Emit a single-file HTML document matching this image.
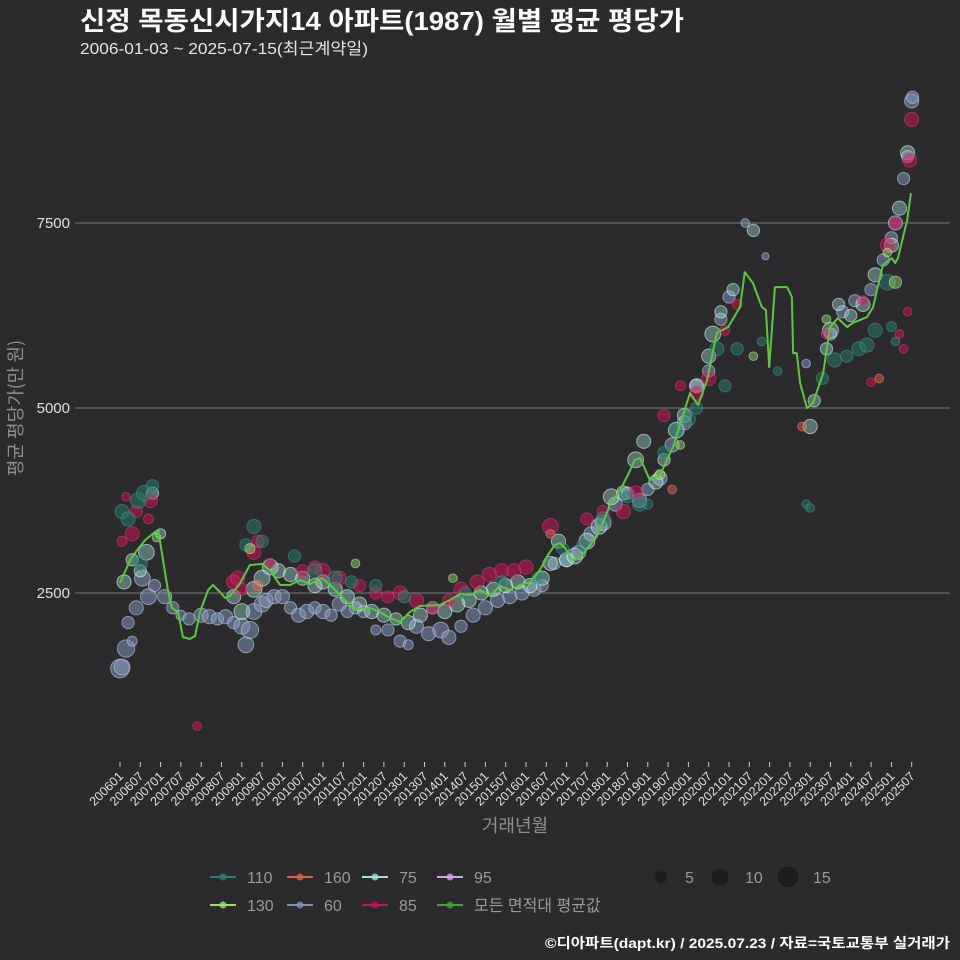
<!DOCTYPE html>
<html><head><meta charset="utf-8">
<style>
html,body{margin:0;padding:0;background:#2b2a2c;}
svg{display:block;font-family:"Liberation Sans","Noto Sans CJK KR",sans-serif;}
</style></head>
<body>
<svg id="chart" width="960" height="960" viewBox="0 0 960 960">
<rect x="0" y="0" width="960" height="960" fill="#2b2a2c"/>
<text x="80" y="30" font-size="26" font-weight="bold" fill="#ffffff" textLength="604" lengthAdjust="spacingAndGlyphs">신정 목동신시가지14 아파트(1987) 월별 평균 평당가</text>
<text x="80" y="54" font-size="16" fill="#e6e6e6" textLength="288" lengthAdjust="spacingAndGlyphs">2006-01-03 ~ 2025-07-15(최근계약일)</text>
<g id="grid"></g>
<g id="yaxis"></g>
<g id="xaxis"></g>
<g id="points"></g>
<g id="avgline"></g>
<text transform="translate(22,408) rotate(-90)" text-anchor="middle" font-size="18" fill="#8f8f8f" style="font-family:'Noto Sans CJK KR','Liberation Sans',sans-serif">평균 평당가(만 원)</text>
<text x="515" y="832" text-anchor="middle" font-size="18" fill="#8f8f8f">거래년월</text>
<g id="legend"></g>
<text x="950" y="948" text-anchor="end" font-size="14" font-weight="bold" fill="#ffffff" textLength="405" lengthAdjust="spacingAndGlyphs">©디아파트(dapt.kr) / 2025.07.23 / 자료=국토교통부 실거래가</text>
</svg>
<script>
// ---- data ----
const yTicks = [2500, 5000, 7500];
const xTickLabels = ["200601","200607","200701","200707","200801","200807","200901","200907","201001","201007","201101","201107","201201","201207","201301","201307","201401","201407","201501","201507","201601","201607","201701","201707","201801","201807","201901","201907","202001","202007","202101","202107","202201","202207","202301","202307","202401","202407","202501","202507"];
const avgYears = [2006.00,2006.25,2006.42,2006.62,2006.86,2006.94,2007.06,2007.18,2007.28,2007.43,2007.55,2007.72,2007.85,2007.97,2008.17,2008.29,2008.46,2008.59,2008.71,2008.96,2009.20,2009.50,2009.69,2009.94,2010.19,2010.43,2010.68,2010.98,2011.30,2011.54,2011.79,2012.16,2012.40,2012.65,2012.90,2013.14,2013.39,2013.88,2014.13,2014.37,2014.62,2014.87,2015.11,2015.36,2015.61,2015.85,2016.10,2016.34,2016.54,2016.71,2016.84,2016.96,2017.13,2017.33,2017.58,2017.82,2018.07,2018.32,2018.51,2018.68,2018.81,2019.05,2019.30,2019.62,2020.04,2020.24,2020.46,2020.70,2020.98,2021.27,2021.39,2021.59,2021.81,2021.91,2021.99,2022.13,2022.43,2022.55,2022.58,2022.67,2022.75,2022.92,2023.07,2023.32,2023.49,2023.68,2023.91,2024.05,2024.40,2024.55,2024.79,2025.01,2025.09,2025.16,2025.39,2025.48];
const avgValues = [2635,2946,3080,3216,3324,3350,2946,2540,2297,2243,1905,1878,1919,2243,2540,2608,2513,2432,2459,2635,2878,2892,2810,2608,2608,2676,2622,2703,2540,2405,2270,2297,2243,2162,2108,2243,2324,2338,2405,2486,2473,2540,2459,2595,2540,2608,2649,2810,3013,3149,3176,3108,2946,2973,3149,3351,3689,3892,4095,4297,4324,4027,4094,4473,5202,5040,5378,6013,6094,6364,6837,6688,6364,6323,5553,6634,6634,6499,5742,5742,5337,4999,5067,5472,6094,6215,6094,6148,6229,6364,6931,7026,6958,7026,7539,7904];
// [year, value, count]
const s60 = [[2006.0,1480,14],[2006.05,1500,10],[2006.15,1750,12],[2006.2,2100,6],[2006.3,1850,4],[2006.4,2300,8],[2006.55,2700,10],[2006.7,2450,10],[2006.85,2600,6],[2007.1,2450,8],[2007.3,2300,6],[2007.5,2200,4],[2007.7,2150,6],[2008.0,2200,8],[2008.2,2180,8],[2008.4,2150,6],[2008.6,2180,8],[2008.8,2100,6],[2009.0,2050,10],[2009.1,1800,10],[2009.2,2000,12],[2009.3,2250,10],[2009.5,2350,10],[2009.6,2400,8],[2009.8,2450,8],[2010.0,2450,8],[2010.2,2300,6],[2010.4,2200,8],[2010.6,2250,8],[2010.8,2300,6],[2011.0,2250,8],[2011.2,2200,6],[2011.4,2350,8],[2011.6,2250,6],[2011.8,2300,6],[2012.0,2250,6],[2012.3,2000,4],[2012.6,2000,6],[2012.9,1850,6],[2013.1,1800,4],[2013.3,2050,8],[2013.6,1950,8],[2013.9,2000,10],[2014.1,1900,8],[2014.4,2050,6],[2014.7,2200,8],[2015.0,2300,8],[2015.3,2400,8],[2015.6,2450,8],[2015.9,2500,8],[2016.2,2550,8],[2016.4,2600,6],[2016.7,2900,6],[2017.0,2950,8],[2017.3,3050,8],[2017.6,3300,8],[2017.9,3450,10],[2018.2,3700,8],[2018.5,3850,6],[2018.8,3750,8],[2019.0,3900,6],[2019.3,4050,8],[2019.6,4500,8],[2019.9,4800,8],[2020.2,5300,6],[2020.5,5500,6],[2020.8,6200,6],[2021.0,6500,6],[2021.4,7500,3],[2021.9,7050,2],[2022.9,5600,3],[2023.5,6000,6],[2023.8,6300,6],[2024.1,6450,6],[2024.5,6600,6],[2024.8,7000,6],[2025.0,7300,6],[2025.1,7500,8],[2025.3,8100,6],[2025.4,8400,6],[2025.5,9150,8],[2025.52,9200,6]];
const s75 = [[2006.1,2650,8],[2006.3,2950,6],[2006.5,2800,6],[2006.65,3050,10],[2006.8,3850,6],[2007.0,3300,4],[2008.8,2450,8],[2009.0,2250,10],[2009.3,2550,10],[2009.5,2700,10],[2009.7,2850,10],[2009.9,2800,8],[2010.2,2750,8],[2010.5,2700,8],[2010.8,2600,8],[2011.0,2650,8],[2011.3,2550,8],[2011.6,2450,8],[2011.9,2350,8],[2012.2,2250,8],[2012.5,2200,8],[2012.8,2150,6],[2013.1,2100,8],[2013.4,2200,8],[2013.7,2300,6],[2014.0,2250,8],[2014.3,2350,10],[2014.6,2400,8],[2014.9,2500,8],[2015.2,2550,8],[2015.5,2600,8],[2015.8,2650,8],[2016.1,2600,8],[2016.4,2700,8],[2016.6,2900,8],[2016.8,3200,8],[2017.0,2950,8],[2017.2,3000,10],[2017.5,3200,10],[2017.8,3400,10],[2018.1,3800,10],[2018.4,3850,8],[2018.7,4300,10],[2018.9,4550,8],[2019.2,4000,8],[2019.4,4300,6],[2019.7,4700,10],[2019.9,4900,8],[2020.2,5300,8],[2020.5,5700,8],[2020.6,6000,10],[2020.8,6300,6],[2021.1,6600,6],[2021.6,7400,6],[2023.0,4750,8],[2023.1,5100,6],[2023.4,5800,6],[2023.5,6050,10],[2023.7,6400,6],[2024.0,6250,6],[2024.3,6400,8],[2024.6,6800,8],[2025.0,7200,8],[2025.2,7700,8],[2025.4,8450,8]];
const s85 = [[2006.05,3200,4],[2006.15,3800,3],[2006.3,3300,8],[2006.4,3600,6],[2006.7,3500,4],[2006.75,3750,8],[2007.9,700,3],[2008.8,2650,8],[2008.9,2700,8],[2009.0,2550,6],[2009.3,3050,8],[2009.4,3200,6],[2009.7,2900,4],[2010.5,2800,6],[2010.8,2850,6],[2011.0,2800,8],[2011.4,2700,8],[2011.9,2600,6],[2012.3,2500,6],[2012.6,2450,6],[2012.9,2500,8],[2013.3,2400,8],[2013.7,2300,6],[2014.1,2400,6],[2014.4,2550,8],[2014.8,2650,8],[2015.1,2750,8],[2015.4,2800,8],[2015.7,2800,8],[2016.0,2850,8],[2016.6,3400,10],[2017.5,3500,6],[2017.9,3600,6],[2018.4,3600,8],[2018.7,3850,8],[2019.4,4900,6],[2019.8,5300,4],[2020.2,5200,8],[2020.5,5400,8],[2020.9,6050,4],[2021.2,6400,4],[2023.4,6000,4],[2024.3,6450,4],[2024.5,5350,3],[2024.9,7200,8],[2025.1,7500,6],[2025.2,6000,3],[2025.3,5800,3],[2025.4,6300,3],[2025.45,8350,8],[2025.5,8900,8]];
const s110 = [[2006.05,3600,8],[2006.2,3500,8],[2006.45,3750,10],[2006.5,2900,8],[2006.6,3850,10],[2006.8,3950,6],[2009.1,3150,6],[2009.3,3400,8],[2009.5,3200,6],[2010.3,3000,6],[2010.8,2800,8],[2011.3,2700,8],[2011.7,2650,6],[2012.3,2600,6],[2013.0,2450,6],[2014.5,2500,6],[2015.4,2650,6],[2016.3,2700,6],[2016.9,3100,6],[2017.4,3150,6],[2017.9,3500,8],[2018.5,3800,6],[2018.8,3700,8],[2019.0,3700,4],[2019.4,4400,6],[2019.7,4700,8],[2020.0,4850,8],[2020.2,5000,6],[2020.7,5800,8],[2020.9,5300,6],[2021.2,5800,6],[2021.8,5900,3],[2022.2,5500,3],[2022.9,3700,3],[2023.0,3650,3],[2023.3,5400,6],[2023.6,5650,8],[2023.9,5700,6],[2024.2,5800,8],[2024.4,5850,8],[2024.6,6050,8],[2024.9,6700,10],[2025.0,6100,4],[2025.1,5900,3]];
const s130 = [[2006.9,3250,3],[2009.2,3100,4],[2011.8,2900,3],[2014.2,2700,3],[2019.3,4100,4],[2019.8,4500,3],[2021.6,5700,3],[2023.4,6200,3],[2024.9,7100,3],[2025.1,6700,6]];
const s160 = [[2009.4,2600,4],[2016.6,3300,3],[2019.6,3900,3],[2022.8,4750,3],[2024.7,5400,3]];
const s95 = [];

// ---- scales ----
const NS = "http://www.w3.org/2000/svg";
function xs(yr){ return 120 + (yr - 2006) * 40.6; }
function ys(v){ return 593 - (v - 2500) * 0.074; }
function rs(c){ return Math.sqrt(c) * 2.5; }
function mk(tag, attrs, parent){ const e=document.createElementNS(NS,tag); for(const k in attrs) e.setAttribute(k,attrs[k]); parent.appendChild(e); return e; }

const grid=document.getElementById('grid'), yax=document.getElementById('yaxis'), xax=document.getElementById('xaxis');
yTicks.forEach(v=>{
  const l=mk('line',{x1:75,x2:950,y1:ys(v),y2:ys(v),stroke:'#7a7a7a','stroke-width':1},grid);
  
  
  const t=mk('text',{x:70,y:ys(v)+5,'text-anchor':'end','font-size':15,fill:'#e0e0e0'},yax);
  t.textContent=v;
  
  
});
xTickLabels.forEach((lab,i)=>{
  const yr=2006+i*0.5, x=xs(yr);
  const tk=mk('line',{x1:x,x2:x,y1:762,y2:767,stroke:'#cfcfcf','stroke-width':1},xax);
  
  
  const t=mk('text',{x:x+4,y:777,'text-anchor':'end','font-size':12.5,fill:'#e0e0e0',transform:'rotate(-45 '+(x+4)+' 777)'},xax);
  t.textContent=lab;
  
  
});

const pts=document.getElementById('points');
const series=[['60',s60,'rgba(135,155,195,0.5)','rgba(190,205,235,0.6)'],['75',s75,'rgba(165,225,215,0.4)','rgba(210,245,240,0.6)'],['85',s85,'rgba(215,15,90,0.5)','rgba(235,60,120,0.5)'],['110',s110,'rgba(40,125,112,0.5)','rgba(70,160,145,0.5)'],['130',s130,'rgba(150,225,110,0.45)','rgba(180,240,150,0.6)'],['160',s160,'rgba(225,95,80,0.5)','rgba(240,130,110,0.6)'],['95',s95,'rgba(210,160,225,0.5)','rgba(230,190,240,0.6)']];
series.forEach(([name,data,fill,stroke])=>{
  data.forEach((d,i)=>{
    const c=mk('circle',{cx:xs(d[0]),cy:ys(d[1]),r:rs(d[2]),fill:fill,stroke:stroke,'stroke-width':1},pts);
    
    
  });
});

const ag=document.getElementById('avgline');
const dstr=avgYears.map((y,i)=>(i?'L':'M')+xs(y).toFixed(1)+' '+ys(avgValues[i]).toFixed(1)).join(' ');
const p=mk('path',{d:dstr,fill:'none',stroke:'#5cc83e','stroke-width':2,'stroke-linejoin':'round'},ag);



// legend
const lg=document.getElementById('legend');
const legItems=[['110',210,877,'#2a7d72'],['160',287,877,'#e0604f'],['75',362,877,'#a5e1d7'],['95',437,877,'#d6a3e3'],['130',210,905,'#96e16e'],['60',287,905,'#7f93b8'],['85',362,905,'#d20f5a'],['모든 면적대 평균값',437,905,'#3fa33a']];
legItems.forEach(([lab,x,y,col])=>{
  const g=mk('g',{},lg);
  
  
  mk('line',{x1:x,x2:x+26,y1:y,y2:y,stroke:col,'stroke-width':2},g);
  mk('circle',{cx:x+13,cy:y,r:3.5,fill:col,opacity:0.8},g);
  const t=mk('text',{x:x+37,y:y+6,'font-size':16,fill:'#9a9a9a'},g);
  t.textContent=lab;
});
[[5,661,685],[10,720,745],[15,788,813]].forEach(([c,cx,tx])=>{
  const g=mk('g',{},lg);
  
  
  mk('circle',{cx:cx,cy:877,r:rs(c)*1.05,fill:'#1c1b1d'},g);
  const t=mk('text',{x:tx,y:883,'font-size':16,fill:'#9a9a9a'},g);
  t.textContent=c;
});
</script>
</body></html>
